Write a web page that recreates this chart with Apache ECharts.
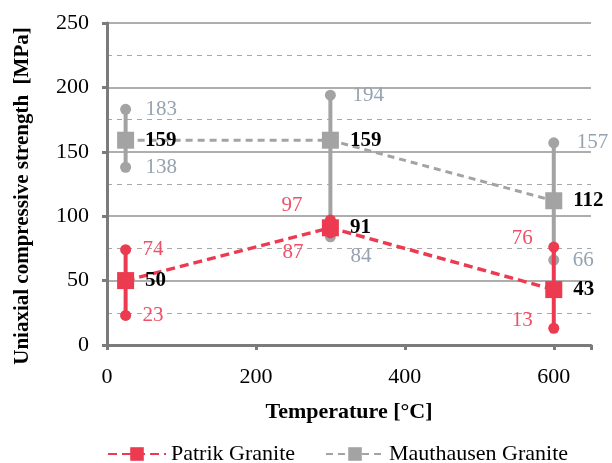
<!DOCTYPE html>
<html>
<head>
<meta charset="utf-8">
<script src="https://cdn.jsdelivr.net/npm/echarts@6/dist/echarts.min.js"></script>
<style>
  html, body { margin: 0; padding: 0; background: #fff; }
  #chart { width: 612px; height: 463px; }
</style>
</head>
<body>
<div id="chart"></div>
<script>
// Strength of two granites after heating: mean with min/max range
const temperatures = [25, 300, 600];
const patrikMean = [50, 91, 43];
const patrikMin = [23, 87, 13];
const patrikMax = [74, 97, 76];
const mauthMean = [159, 159, 112];
const mauthMin = [138, 84, 66];
const mauthMax = [183, 194, 157];
const xTicks = [0, 200, 400, 600];
const yTicks = [0, 50, 100, 150, 200, 250];

const FONT = '"Liberation Serif", "DejaVu Serif", serif';
const RED = '#ec3a50';
const RED_TEXT = '#ef5068';
const GREY = '#a3a3a3';
const GREY_TEXT = '#96a3af';
const AXIS = '#7b7b7b';

// Where the min/max value labels sit relative to each range end: [side, dx, dy]
const patrikMaxPlace = [['left', 17, 0], ['right', -28, -15], ['right', -21, -9]];
const patrikMinPlace = [['left', 17, 0], ['right', -27, 20], ['right', -21, -8]];
const mauthMaxPlace = [['left', 20, 0], ['left', 22, 0], ['left', 23, 0]];
const mauthMinPlace = [['left', 20, 0], ['left', 20, 20], ['left', 19, 0]];

function rangeData(xs, lo, hi) {
  return xs.map((x, i) => [x, lo[i], hi[i]]);
}

function makeRangeRenderer(color, textColor, minPlace, maxPlace) {
  return function (params, api) {
    const i = params.dataIndex;
    const top = api.coord([api.value(0), api.value(2)]);
    const bot = api.coord([api.value(0), api.value(1)]);
    const text = (pt, place, val) => ({
      type: 'text',
      style: {
        text: String(val),
        x: pt[0] + place[1],
        y: pt[1] + place[2],
        align: place[0],
        verticalAlign: 'middle',
        fill: textColor,
        font: '21px ' + FONT
      }
    });
    return {
      type: 'group',
      children: [
        { type: 'line', shape: { x1: top[0], y1: top[1], x2: bot[0], y2: bot[1] },
          style: { stroke: color, lineWidth: 4 } },
        { type: 'circle', shape: { cx: top[0], cy: top[1], r: 5.5 }, style: { fill: color } },
        { type: 'circle', shape: { cx: bot[0], cy: bot[1], r: 5.5 }, style: { fill: color } },
        text(top, maxPlace[i], api.value(2)),
        text(bot, minPlace[i], api.value(1))
      ]
    };
  };
}

const meanLabel = {
  show: true,
  position: 'right',
  distance: 11,
  color: '#000',
  fontFamily: FONT,
  fontSize: 21,
  fontWeight: 'bold'
};

const chart = echarts.init(document.getElementById('chart'), null, { renderer: 'canvas' });
chart.setOption({
  animation: false,
  backgroundColor: '#fff',
  grid: { left: 107, top: 23, width: 484, height: 322, containLabel: false },
  xAxis: {
    type: 'value',
    min: 0, max: 650, interval: 200,
    name: 'Temperature [°C]',
    nameLocation: 'middle',
    nameGap: 56,
    nameTextStyle: { fontFamily: FONT, fontSize: 22, fontWeight: 'bold', color: '#000' },
    axisLine: { show: true, lineStyle: { color: AXIS, width: 3 } },
    axisTick: { show: true, length: 5, lineStyle: { color: AXIS, width: 3 } },
    axisLabel: {
      fontFamily: FONT, fontSize: 22, color: '#000', margin: 21,
      formatter: v => (xTicks.includes(v) ? String(v) : '')
    },
    splitLine: { show: false }
  },
  yAxis: {
    type: 'value',
    min: 0, max: 250, interval: 50,
    name: 'Uniaxial compressive strength  [MPa]',
    nameLocation: 'middle',
    nameGap: 74,
    nameRotate: 90,
    nameTextStyle: { fontFamily: FONT, fontSize: 21, fontWeight: 'bold', color: '#000', padding: [0, 24, 0, 0] },
    axisLine: { show: true, lineStyle: { color: AXIS, width: 3 } },
    axisTick: { show: true, length: 5, lineStyle: { color: AXIS, width: 3 } },
    axisLabel: {
      fontFamily: FONT, fontSize: 22, color: '#000', margin: 18,
      formatter: v => (yTicks.includes(v) ? String(v) : '')
    },
    splitLine: { show: true, lineStyle: { color: '#939393', width: 1.5 } },
    minorTick: { show: false, splitNumber: 2 },
    minorSplitLine: { show: true, lineStyle: { color: '#a8a8a8', width: 1, type: [5, 5] } }
  },
  legend: {
    top: 438,
    left: 102,
    itemGap: 30,
    itemWidth: 58,
    itemHeight: 17,
    textStyle: { fontFamily: FONT, fontSize: 22, color: '#000' },
    data: ['Patrik Granite', 'Mauthausen Granite']
  },
  series: [
    {
      name: 'Mauthausen range',
      type: 'custom',
      renderItem: makeRangeRenderer(GREY, GREY_TEXT, mauthMinPlace, mauthMaxPlace),
      encode: { x: 0, y: [1, 2] },
      data: rangeData(temperatures, mauthMin, mauthMax),
      z: 2
    },
    {
      name: 'Mauthausen Granite',
      type: 'line',
      data: temperatures.map((t, i) => [t, mauthMean[i]]),
      color: GREY,
      symbol: 'rect',
      symbolSize: 17,
      itemStyle: { color: GREY },
      lineStyle: { color: GREY, width: 3, type: [7, 5] },
      label: meanLabel,
      z: 3
    },
    {
      name: 'Patrik range',
      type: 'custom',
      renderItem: makeRangeRenderer(RED, RED_TEXT, patrikMinPlace, patrikMaxPlace),
      encode: { x: 0, y: [1, 2] },
      data: rangeData(temperatures, patrikMin, patrikMax),
      z: 4
    },
    {
      name: 'Patrik Granite',
      type: 'line',
      data: temperatures.map((t, i) => [t, patrikMean[i]]),
      color: RED,
      symbol: 'rect',
      symbolSize: 17,
      itemStyle: { color: RED },
      lineStyle: { color: RED, width: 3.5, type: [9, 5] },
      label: meanLabel,
      z: 5
    }
  ]
});
</script>
</body>
</html>
